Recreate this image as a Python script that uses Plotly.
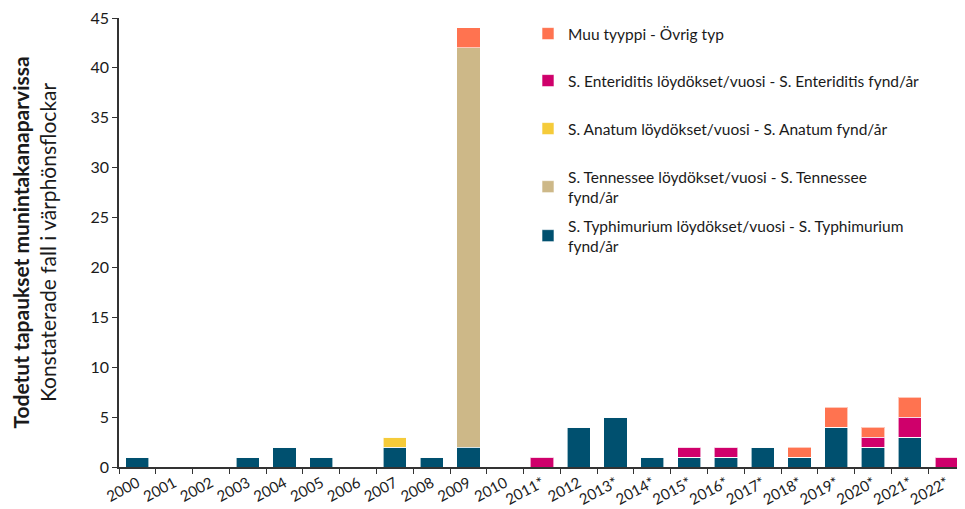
import plotly.graph_objects as go

years = ["2000", "2001", "2002", "2003", "2004", "2005", "2006", "2007", "2008", "2009",
         "2010", "2011*", "2012", "2013*", "2014*", "2015*", "2016*", "2017*", "2018*",
         "2019*", "2020*", "2021*", "2022*"]
typhimurium = [1, 0, 0, 1, 2, 1, 0, 2, 1, 2, 0, 0, 4, 5, 1, 1, 1, 2, 1, 4, 2, 3, 0]
tennessee   = [0, 0, 0, 0, 0, 0, 0, 0, 0, 40, 0, 0, 0, 0, 0, 0, 0, 0, 0, 0, 0, 0, 0]
anatum      = [0, 0, 0, 0, 0, 0, 0, 1, 0, 0, 0, 0, 0, 0, 0, 0, 0, 0, 0, 0, 0, 0, 0]
enteritidis = [0, 0, 0, 0, 0, 0, 0, 0, 0, 0, 0, 1, 0, 0, 0, 1, 1, 0, 0, 0, 1, 2, 1]
other       = [0, 0, 0, 0, 0, 0, 0, 0, 0, 2, 0, 0, 0, 0, 0, 0, 0, 0, 1, 2, 1, 2, 0]

series = [
    ("S. Typhimurium löydökset/vuosi - S. Typhimurium<br>fynd/år", typhimurium, "#00506F", "legend5"),
    ("S. Tennessee löydökset/vuosi - S. Tennessee<br>fynd/år", tennessee, "#CDB888", "legend4"),
    ("S. Anatum löydökset/vuosi - S. Anatum fynd/år", anatum, "#F5CB3A", "legend3"),
    ("S. Enteriditis löydökset/vuosi - S. Enteriditis fynd/år", enteritidis, "#CF006B", "legend2"),
    ("Muu tyyppi - Övrig typ", other, "#FF7350", "legend"),
]

FONT = "Lato"
W, H = 957, 501
fig = go.Figure()
for name, vals, color, lg in series:
    fig.add_trace(go.Bar(
        x=years, y=vals, name=name, marker_color=color,
        marker_line=dict(color="rgba(255,255,255,0.6)", width=1),
        legend=lg,
    ))

legend_y = {"legend": 33, "legend2": 80, "legend3": 128, "legend4": 176, "legend5": 225}
layout_legends = {}
for key, ypix in legend_y.items():
    layout_legends[key] = dict(
        x=520 / W, xref="container", xanchor="left",
        y=1 - (ypix - 24) / H, yref="container", yanchor="top",
        bgcolor="rgba(0,0,0,0)", font=dict(family=FONT, size=15.5, color="#1a1a1a"),
        itemclick=False, itemdoubleclick=False,
    )

fig.update_layout(
    width=W, height=H,
    margin=dict(l=111, r=0, t=10, b=42, autoexpand=False),
    barmode="stack", bargap=0.37,
    plot_bgcolor="white", paper_bgcolor="white",
    font=dict(family=FONT, size=14, color="#1a1a1a"),
    xaxis=dict(
        type="category", tickson="boundaries", ticks="outside", ticklen=5,
        tickcolor="#333", showline=True, linecolor="#333", linewidth=1.5,
        tickangle=-28, tickfont=dict(size=15), showgrid=False,
    ),
    yaxis=dict(
        range=[0, 45], dtick=5, ticks="outside", ticklen=5, tickcolor="#333",
        showline=True, linecolor="#333", linewidth=1.5, showgrid=False,
        zeroline=False, tickfont=dict(size=16), ticklabeloverflow="allow",
        title=dict(
            text="<b>Todetut tapaukset munintakanaparvissa</b><br>Konstaterade fall i värphönsflockar",
            font=dict(size=21, family=FONT), standoff=40,
        ),
    ),
    showlegend=True,
    **layout_legends,
)
fig.write_html("out.html")
